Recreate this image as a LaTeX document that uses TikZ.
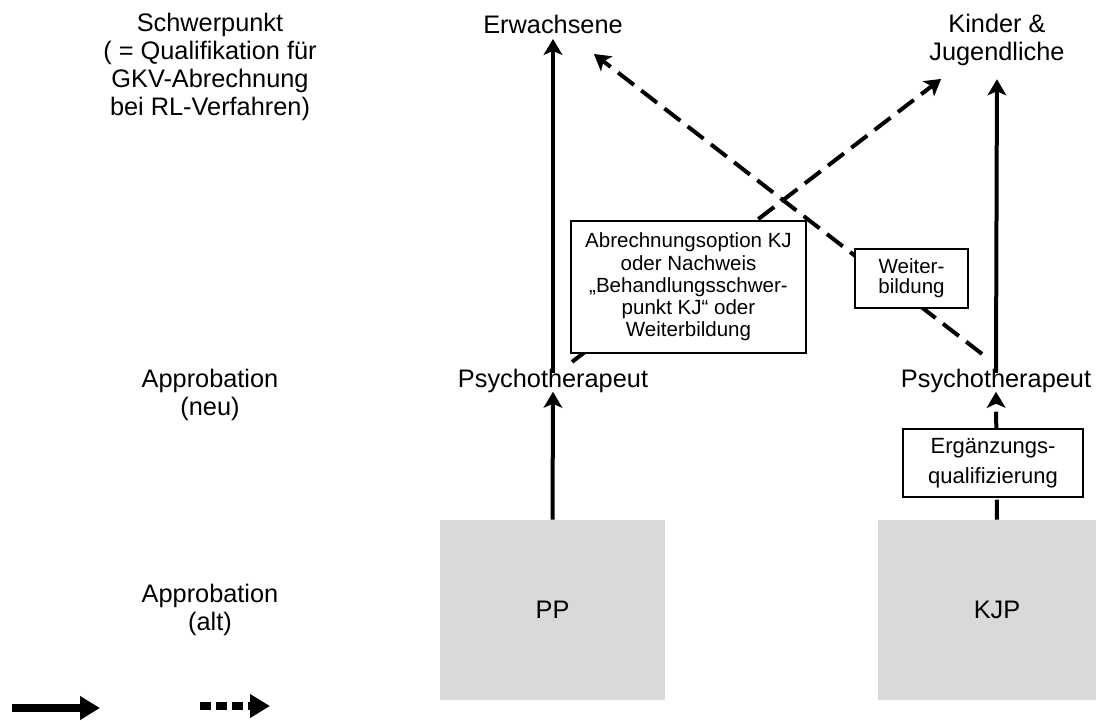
\documentclass[tikz,border=0pt]{standalone}
\usepackage{fontspec}
\setmainfont{Liberation Sans}
\usepackage{tikz}
\usetikzlibrary{arrows.meta,calc}

\definecolor{boxgray}{RGB}{217,217,217}
\newcommand{\bigsize}{\fontsize{19}{20.8}\selectfont}
\newcommand{\boxsize}{\fontsize{15.4}{16.7}\selectfont}

\begin{document}
\begin{tikzpicture}
		[x = 0.75pt, y = -0.75pt,
		 lbl/.style = {font = \bigsize, align = center, inner sep = 0pt},
		 oldbox/.style = {fill = boxgray, font = \bigsize, inner sep = 0pt,
		                  minimum height = 135pt},
		 notebox/.style = {draw, fill = white, line width = 0.8pt, align = center,
		                   inner sep = 0pt},
		 solidarrow/.style = {line width = 3pt, -{Stealth[length = 12pt, width = 14pt, inset = 3pt]}},
		 dasharrow/.style = {solidarrow, dash pattern = on 15pt off 7pt}]
			\useasboundingbox (0,0) rectangle (1096,721);
			% approbation (alt)
			\node [oldbox, minimum width = 168.75pt] (pp) at (552.5,610) {PP};
			\node [oldbox, minimum width = 178.5pt] (kjp) at (997,610) {KJP};
			% row labels
			\node [lbl] (schw) at (210,67) {Schwerpunkt\\( = Qualifikation für\\GKV-Abrechnung\\bei RL-Verfahren)};
			\node [lbl] (neu) at (210,395) {Approbation\\(neu)};
			\node [lbl] (alt) at (210,610) {Approbation\\(alt)};
			% targets
			\node [lbl] (erw) at (553,24) {Erwachsene};
			\node [lbl] (kind) at (997,40) {Kinder \&\\Jugendliche};
			\node [lbl] (psyL) at (553,381) {Psychotherapeut};
			\node [lbl] (psyR) at (996,381) {Psychotherapeut};
			% arrows
			\draw [solidarrow, shorten >= -1pt] (pp.north) -- (psyL.south);
			\draw [solidarrow, shorten <= -3pt, shorten >= 4pt] (psyL.north) -- (erw.south);
			\draw [dasharrow, shorten >= -1pt] (kjp.north) -- (psyR.south);
			\draw [solidarrow, shorten <= -3pt, shorten >= 10pt] (psyR.north) -- (kind.south);
			\draw [dasharrow] ($(psyL.north)+(19,-7)$) -- ($(kind.south west)+(12,13)$);
			\draw [dasharrow] ($(psyR.north)+(-14,-15)$) -- ($(erw.east)+(-29,30)$);
			% notes on the arrows
			\node [notebox, font = \boxsize, minimum width = 176.25pt, minimum height = 99pt] (abr) at (688.5,287)
				{Abrechnungsoption KJ\\oder Nachweis\\„Behandlungsschwer-\\punkt KJ“ oder\\Weiterbildung};
			\node [notebox, font = \fontsize{15.4}{15}\selectfont, minimum width = 84.75pt, minimum height = 44.25pt] (weit) at (911.5,278.5)
				{Weiter-\\bildung};
			\node [notebox, font = \fontsize{16.5}{22.5}\selectfont, minimum width = 135pt, minimum height = 51pt] (erg) at (993,463)
				{Ergänzungs-\\qualifizierung};
			% legend
			\coordinate (legA) at (12,708);
			\coordinate (legB) at (100,708);
			\coordinate (legC) at (200,706);
			\coordinate (legD) at (270,706);
			\draw [line width = 6pt, -{Triangle[length = 15pt, width = 17pt]}] (legA) -- (legB);
			\draw [line width = 6pt, dash pattern = on 8pt off 4pt, -{Triangle[length = 15pt, width = 17pt]}] (legC) -- (legD);
	\end{tikzpicture}
\end{document}
